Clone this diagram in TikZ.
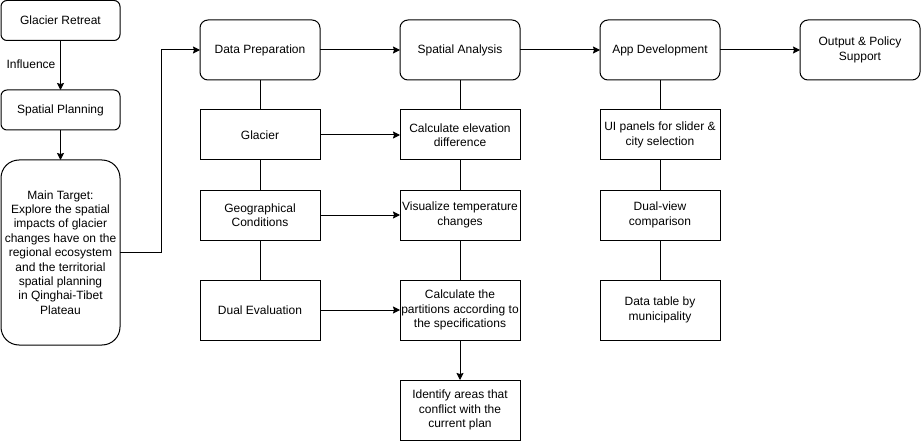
\documentclass[tikz,border=0pt]{standalone}
\usepackage{fontspec}
\setmainfont{Liberation Sans}
\usetikzlibrary{arrows.meta}
\begin{document}
\begin{tikzpicture}[x=1pt,y=-1pt,
  every node/.style={font=\fontsize{12}{14.4}\selectfont, align=center, inner sep=0pt, outer sep=0pt},
  box/.style={draw, line width=1pt, minimum width=120pt, minimum height=50pt},
  rbox/.style={box, rounded corners=8pt, minimum height=60pt},
  sbox/.style={box, rounded corners=6pt, minimum width=119pt, minimum height=40pt},
  tbox/.style={box, minimum height=60pt},
  conn/.style={line width=1pt},
  arr/.style={line width=1pt, -{Stealth[length=7pt,width=7pt,inset=1pt]}}]
\useasboundingbox (0,0) rectangle (921,441);
% left column
\node[sbox] (gr) at (60.5,20.5) {Glacier Retreat};
\node[sbox] (sp) at (60.5,110) {Spatial Planning};
\node[box, rounded corners=18pt, minimum width=119pt, minimum height=185pt] (mt) at (60.5,252.5) {Main Target:\\Explore the spatial\\impacts of glacier\\changes have on the\\regional ecosystem\\and the territorial\\spatial planning\\in Qinghai-Tibet\\Plateau};
\node (infl) at (31,64) {Influence};
\draw[arr] (gr) -- (sp);
\draw[arr] (sp) -- (mt);
% column 2
\node[rbox] (dp) at (260,50) {Data Preparation};
\node[box] (gl) at (260,135) {Glacier};
\node[box] (geo) at (260,215) {Geographical\\Conditions};
\node[tbox] (de) at (260,310) {Dual Evaluation};
\draw[conn] (dp) -- (gl);
\draw[conn] (gl) -- (geo);
\draw[conn] (geo) -- (de);
\draw[arr] (mt.east) -- (161,252.5) |- (dp.west);
% column 3
\node[rbox] (sa) at (460,50) {Spatial Analysis};
\node[box] (ce) at (460,135) {Calculate elevation\\difference};
\node[box] (vt) at (460,215) {Visualize temperature\\changes};
\node[tbox] (cp) at (460,310) {Calculate the\\partitions according to\\the specifications};
\node[tbox] (ia) at (460,410) {Identify areas that\\conflict with the\\current plan};
\draw[conn] (sa) -- (ce);
\draw[conn] (ce) -- (vt);
\draw[conn] (vt) -- (cp);
\draw[arr] (cp) -- (ia);
\draw[arr] (dp) -- (sa);
\draw[arr] (gl) -- (ce);
\draw[arr] (geo) -- (vt);
\draw[arr] (de) -- (cp);
% column 4
\node[rbox] (ad) at (660,50) {App Development};
\node[box] (ui) at (660,135) {UI panels for slider \&\\city selection};
\node[box] (dv) at (660,215) {Dual-view\\comparison};
\node[tbox] (dt) at (660,310) {Data table by\\municipality};
\draw[conn] (ad) -- (ui);
\draw[conn] (ui) -- (dv);
\draw[conn] (dv) -- (dt);
\draw[arr] (sa) -- (ad);
% column 5
\node[rbox] (op) at (860,50) {Output \& Policy\\Support};
\draw[arr] (ad) -- (op);
\end{tikzpicture}
\end{document}
